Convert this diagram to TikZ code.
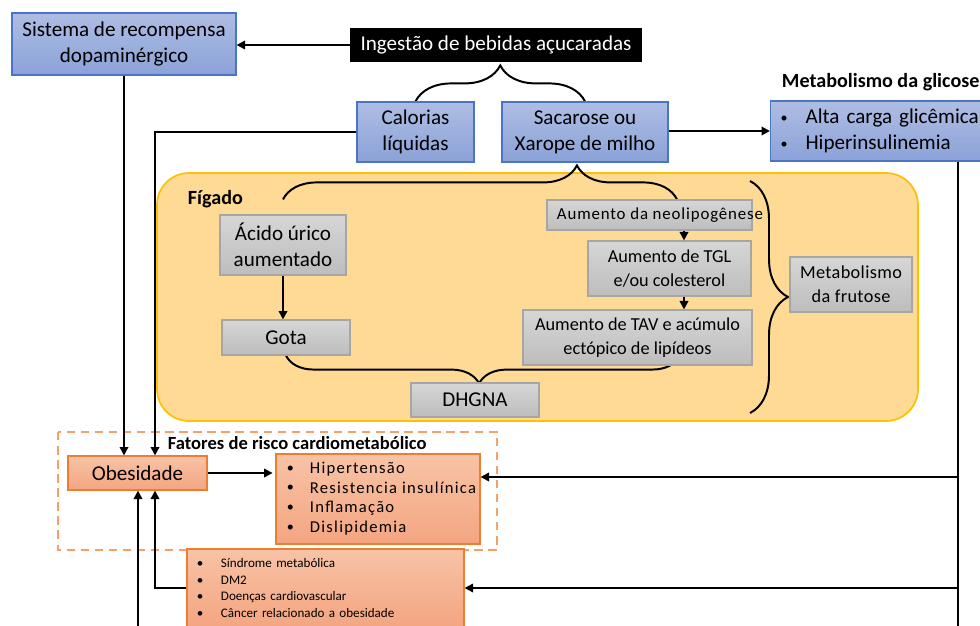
\documentclass[tikz,border=0pt]{standalone}
\usepackage{fontspec}
\setmainfont{Carlito}
\usetikzlibrary{arrows.meta,decorations.pathreplacing,backgrounds}

\definecolor{blueline}{HTML}{4A74C6}
\definecolor{bluetop}{HTML}{AEBDE3}
\definecolor{bluebot}{HTML}{8BA2D8}
\definecolor{greyline}{HTML}{A6A6A6}
\definecolor{greytop}{HTML}{D6D6D6}
\definecolor{greybot}{HTML}{BDBDBD}
\definecolor{orangeline}{HTML}{ED7D31}
\definecolor{orangetop}{HTML}{F8C3A6}
\definecolor{orangebot}{HTML}{F4A581}
\definecolor{liverfill}{HTML}{FFDA94}
\definecolor{liverline}{HTML}{FFC000}
\definecolor{dashline}{HTML}{F4A06A}

\newcommand\fbig{\fontsize{15}{18.5}\selectfont}
\newcommand\fmid{\fontsize{13}{17}\selectfont}
\newcommand\fneo{\fontsize{12}{14}\selectfont\addfontfeature{LetterSpace=5}}
\newcommand\flist{\fontsize{11.8}{14}\selectfont\addfontfeature{LetterSpace=7.5}}
\newcommand\fsmall{\fontsize{9.3}{11.9}\selectfont}
\newcommand\fhead{\fontsize{14.3}{16}\selectfont\bfseries}
\newcommand\ftitle{\fontsize{13.2}{15}\selectfont\bfseries}
\newcommand\dotitem[1]{\makebox[#1][l]{\fontsize{10}{10}\selectfont\raisebox{0.8pt}{•}}}

\tikzset{
  >={Triangle[length=6pt,width=6pt]},
  conn/.style={line width=1.4pt,->},
  cbrace/.style={decorate,line width=1.4pt},
  bluebox/.style={draw=blueline,line width=0.8pt,top color=bluetop,bottom color=bluebot,
    align=center,inner sep=0pt,font=\fbig},
  greybox/.style={draw=greyline,line width=0.8pt,top color=greytop,bottom color=greybot,
    align=center,inner sep=0pt,font=\fbig},
  orangebox/.style={draw=orangeline,line width=0.8pt,top color=orangetop,bottom color=orangebot,
    align=center,inner sep=0pt,font=\fbig},
}

\begin{document}
\begin{tikzpicture}[x=0.025cm,y=-0.025cm]
  \useasboundingbox (0,0) rectangle (980,625);

  \node[bluebox,minimum width=5.6cm,minimum height=1.55cm] at (124,44) (sistema) {Sistema de recompensa\\dopaminérgico};
  \node[fill=black,text=white,inner sep=0pt,minimum width=7.3cm,minimum height=0.85cm,font=\fbig] at (496,45) (ingestao) {Ingestão de bebidas açucaradas};
  \draw[conn] (ingestao.west) -- (ingestao.west -| sistema.east);

  \node[bluebox,minimum width=2.925cm,minimum height=1.5cm] at (415.5,132) (calorias) {Calorias\\líquidas};
  \node[bluebox,minimum width=4.15cm,minimum height=1.5cm] at (585,132) (sacarose) {Sacarose ou\\Xarope de milho};

  \node[anchor=west,font=\fhead] at (777,82) (tglicose) {Metabolismo da glicose};
  \node[bluebox,anchor=west,align=left,inner xsep=0.25cm,text width=5.125cm,minimum height=1.5cm] at (770,131) (glicose)
    {\dotitem{0.625cm}Alta carga glicêmica\\\dotitem{0.625cm}Hiperinsulinemia};
  \draw[conn] (sacarose.east |- glicose.west) -- (glicose.west);

  \node[anchor=west,font=\fhead] at (183,199) (figado) {Fígado};
  \node[greybox,minimum width=3.15cm,minimum height=1.5cm] at (283,245) (acido) {Ácido úrico\\aumentado};
  \node[greybox,minimum width=3.2cm,minimum height=0.875cm] at (286,337.5) (gota) {Gota};
  \draw[conn] (acido.south) -- (acido.south |- gota.north);

  \node[greybox,minimum width=5.125cm,minimum height=0.75cm,font=\fneo] at (649.5,215) (neolipo) {\makebox[4.625cm][l]{Aumento da neolipogênese}};
  \node[greybox,minimum width=4.075cm,minimum height=1.375cm,font=\fmid] at (669.5,268.5) (tgl) {Aumento de TGL\\e/ou colesterol};
  \node[greybox,minimum width=5.725cm,minimum height=1.375cm,font=\fmid] at (637.5,337.5) (tav) {Aumento de TAV e acúmulo\\ectópico de lipídeos};
  \coordinate (n1) at ([xshift=0.3625cm]tgl.north);
  \coordinate (n2) at ([xshift=0.3625cm]tgl.south);
  \draw[conn] (n1 |- neolipo.south) -- (n1);
  \draw[conn] (n2) -- (n2 |- tav.north);

  \node[greybox,minimum width=3.2cm,minimum height=0.85cm] at (475,400) (dhgna) {DHGNA};
  \node[greybox,minimum width=3.05cm,minimum height=1.375cm,font=\fmid\addfontfeature{LetterSpace=2}] at (851,284.5) (frutose) {Metabolismo\\da frutose};

  \coordinate (b2r) at ([xshift=0.6875cm]neolipo.north);
  \coordinate (b3r) at ([xshift=1.0625cm]tav.south);
  \coordinate (brtop) at (750,181);
  \coordinate (brbot) at (750,413);

  \begin{scope}[on background layer]
    \draw[liverline,fill=liverfill,line width=1.2pt,rounded corners=0.8cm] (157,173) rectangle (918,421);
    \draw[cbrace,decoration={brace,amplitude=0.9cm}] (calorias.north) -- (sacarose.north);
    \draw[cbrace,decoration={brace,amplitude=0.85cm,aspect=0.746}] (acido.north |- neolipo.north) -- (b2r);
    \draw[cbrace,decoration={brace,amplitude=0.7cm,aspect=0.51}] (b3r |- gota.south) -- (gota.south);
    \draw[cbrace,decoration={brace,amplitude=0.95cm}] (brtop) -- (brbot);
  \end{scope}

  \draw[dashline,line width=1pt,dash pattern=on 6pt off 4pt] (58,432) rectangle (497,550);
  \node[anchor=west,font=\ftitle] at (163,443) (tfatores) {Fatores de risco cardiometabólico};
  \node[orangebox,minimum width=3.475cm,minimum height=0.85cm] at (137.5,473) (obesidade) {Obesidade};
  \node[orangebox,inner xsep=0.275cm,minimum height=2.25cm,font=\flist] at (378,499) (fatores)
    {\makebox[4.55cm][l]{\begin{tabular}{@{}l@{}}
      \dotitem{0.575cm}Hipertensão\\\dotitem{0.575cm}Resistencia insulínica\\
      \dotitem{0.575cm}Inflamação\\\dotitem{0.575cm}Dislipidemia
    \end{tabular}}};
  \node[orangebox,align=left,inner xsep=0.25cm,text width=6.425cm,minimum height=1.95cm,font=\fsmall] at (325.5,588) (doencas)
    {\makebox[0.6cm][l]{•}Síndrome metabólica\\\makebox[0.6cm][l]{•}DM2\\\makebox[0.6cm][l]{•}Doenças cardiovascular\\\makebox[0.6cm][l]{•}Câncer relacionado a obesidade};

  \draw[conn] (sistema.south) -- (sistema.south |- obesidade.north);
  \coordinate (obn) at ([xshift=0.4375cm]obesidade.north);
  \coordinate (obs) at ([xshift=0.4375cm]obesidade.south);
  \draw[conn] (calorias.west) -| (obn);
  \draw[conn,shorten >=2pt] (obesidade.east) -- (obesidade.east -| fatores.west);
  \draw[conn] (doencas.west) -| (obs);
  \coordinate (botin) at (138,632);
  \draw[conn] (botin) -- (botin |- obesidade.south);

  \coordinate (gl) at ([xshift=1.875cm]glicose.south);
  \coordinate (glend) at (gl |- botin);
  \coordinate (fr) at ([yshift=0.55cm]fatores.east);
  \draw[line width=1.4pt] (gl) -- (glend);
  \draw[conn] (gl |- fr) -- (fr);
  \draw[conn] (gl |- doencas.east) -- (doencas.east);
\end{tikzpicture}
\end{document}
